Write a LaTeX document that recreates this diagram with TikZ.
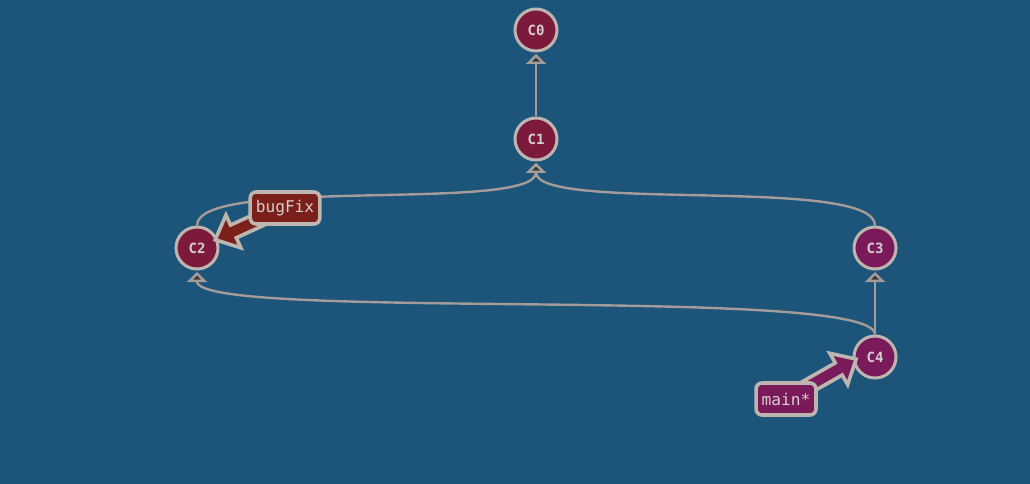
\documentclass[tikz,border=0pt]{standalone}
\usepackage{fontspec}
\setmonofont{DejaVu Sans Mono}
\usepackage{tikz}
\usetikzlibrary{arrows.meta,calc}

\definecolor{bgblue}{HTML}{1D5479}
\definecolor{commitred}{HTML}{7C1A3C}
\definecolor{commitpurple}{HTML}{7A1A5A}
\definecolor{bugred}{HTML}{7B1F1A}
\definecolor{ringgray}{HTML}{BDB6B0}
\definecolor{linkgray}{HTML}{A39C98}
\definecolor{tipgray}{HTML}{3A3A3A}
\definecolor{labelgray}{HTML}{D6CECE}

\pgfdeclarelayer{bg}
\pgfdeclarelayer{links}
\pgfdeclarelayer{tags}
\pgfsetlayers{bg,links,main,tags}

\begin{document}
\begin{tikzpicture}[x = 0.025cm, y = -0.025cm,
                      commit/.style = {circle, draw = ringgray, line width = 0.075cm, minimum size = 1.05cm,
                                       inner sep = 0pt, text = labelgray, font = \ttfamily\bfseries\fontsize{10}{12}\selectfont},
                      branch/.style = {rectangle, rounded corners = 0.15cm, draw = ringgray, line width = 0.09cm,
                                       minimum height = 0.8cm, inner xsep = 0.14cm, text = labelgray,
                                       font = \ttfamily\fontsize{11.5}{13}\selectfont},
                      link/.style = {draw = linkgray, line width = 0.06cm,
                                     -{Triangle[length = 0.25cm, width = 0.5cm, fill = tipgray]}},
                      fat/.style = {draw = ringgray, line width = 0.09cm, line join = miter}]
    \begin{pgfonlayer}{bg}
    \fill [bgblue] (0, 0) rectangle (1030, 484);
    \end{pgfonlayer}

    \node [commit, fill = commitred] (c0) at (536, 30) {C0};
    \node [commit, fill = commitred] (c1) at (536, 139) {C1};
    \node [commit, fill = commitred] (c2) at (197, 248) {C2};
    \node [commit, fill = commitpurple] (c3) at (875, 248) {C3};
    \node [commit, fill = commitpurple] (c4) at (875, 357) {C4};

    \begin{pgfonlayer}{tags}
    \node [branch, fill = bugred] (bugfix) at (285, 208) {bugFix};
    \node [branch, fill = commitpurple] (main) at (786, 399) {main*};
    \end{pgfonlayer}

    \begin{pgfonlayer}{links}
    \draw [link] (c1.north) .. controls +(0, -50) and +(0, 50) .. ($(c0) + (0, 24)$);
    \draw [link] (c2.north) .. controls +(0, -50) and +(0, 50) .. ($(c1) + (0, 24)$);
    \draw [link] (c3.north) .. controls +(0, -50) and +(0, 50) .. ($(c1) + (0, 24)$);
    \draw [link] (c4.north) .. controls +(0, -50) and +(0, 50) .. ($(c3) + (0, 24)$);
    \draw [link] (c4.north) .. controls +(0, -50) and +(0, 50) .. ($(c2) + (0, 24)$);
    \end{pgfonlayer}

    % branch arrows
    \coordinate (bt) at ($(c2)!0.5cm!(bugfix)$);
    \coordinate (bh) at ($(bt)!0.5cm!(bugfix)$);
    \draw [fat, fill = bugred] ($(bugfix)!0.175cm!90:(bt)$) -- ($(bh)!0.175cm!-90:(bugfix)$)
        -- ($(bh)!0.45cm!-90:(bugfix)$) -- (bt) -- ($(bh)!0.45cm!90:(bugfix)$)
        -- ($(bh)!0.175cm!90:(bugfix)$) -- ($(bugfix)!0.175cm!-90:(bt)$) -- cycle;
    \coordinate (mt) at ($(c4)!0.475cm!-19:(main)$);
    \coordinate (mh) at ($(mt)!0.5cm!(main)$);
    \draw [fat, fill = commitpurple] ($(main)!0.175cm!90:(mt)$) -- ($(mh)!0.175cm!-90:(main)$)
        -- ($(mh)!0.45cm!-90:(main)$) -- (mt) -- ($(mh)!0.45cm!90:(main)$)
        -- ($(mh)!0.175cm!90:(main)$) -- ($(main)!0.175cm!-90:(mt)$) -- cycle;
\end{tikzpicture}
\end{document}
